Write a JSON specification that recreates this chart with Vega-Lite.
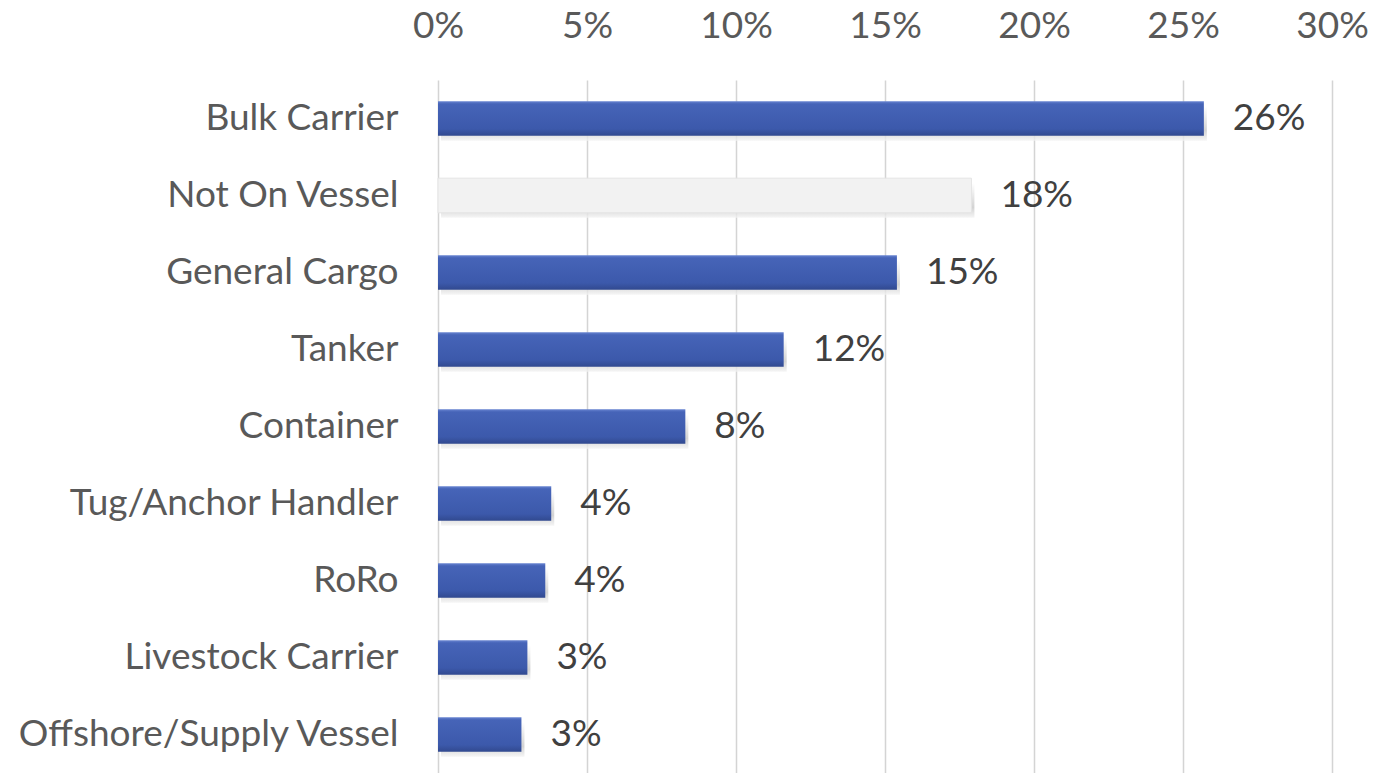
{
  "$schema": "https://vega.github.io/schema/vega-lite/v6.json",
  "autosize": "none",
  "width": 894,
  "height": 693,
  "padding": {"left": 438, "top": 80, "right": 41, "bottom": 0},
  "background": "#ffffff",
  "config": {
    "view": {"stroke": null},
    "font": "Lato"
  },
  "data": {
    "values": [
      {"type": "Bulk Carrier", "share": 0.257},
      {"type": "Not On Vessel", "share": 0.179},
      {"type": "General Cargo", "share": 0.154},
      {"type": "Tanker", "share": 0.116},
      {"type": "Container", "share": 0.083},
      {"type": "Tug/Anchor Handler", "share": 0.038},
      {"type": "RoRo", "share": 0.036},
      {"type": "Livestock Carrier", "share": 0.030},
      {"type": "Offshore/Supply Vessel", "share": 0.028}
    ]
  },
  "encoding": {
    "y": {
      "field": "type",
      "type": "nominal",
      "sort": ["Bulk Carrier", "Not On Vessel", "General Cargo", "Tanker", "Container", "Tug/Anchor Handler", "RoRo", "Livestock Carrier", "Offshore/Supply Vessel"],
      "scale": {"paddingInner": 0.55, "paddingOuter": 0.275},
      "axis": {
        "title": null,
        "ticks": false,
        "tickSize": 0,
        "domain": false,
        "labelPadding": 40,
        "labelFontSize": 37,
        "labelColor": "#595959",
        "labelFont": "Lato",
        "labelLimit": 600
      }
    },
    "x": {
      "field": "share",
      "type": "quantitative",
      "scale": {"domain": [0, 0.3], "nice": false},
      "axis": {
        "orient": "top",
        "title": null,
        "format": ".0%",
        "values": [0, 0.05, 0.1, 0.15, 0.2, 0.25, 0.3],
        "ticks": false,
        "tickSize": 0,
        "domain": false,
        "grid": true,
        "gridColor": "#d4d4d4",
        "gridWidth": 1.5,
        "labelFlush": false,
        "labelOverlap": false,
        "labelPadding": 35,
        "labelFontSize": 37,
        "labelColor": "#595959",
        "labelFont": "Lato"
      }
    }
  },
  "layer": [
    {
      "mark": {
        "type": "bar",
        "xOffset": 3,
        "yOffset": 5,
        "color": {
          "gradient": "linear", "x1": 0, "y1": 0, "x2": 0, "y2": 1,
          "stops": [
            {"offset": 0, "color": "#ffffff"},
            {"offset": 0.7, "color": "#c8c8c8"},
            {"offset": 1, "color": "#f4f4f4"}
          ]
        },
        "opacity": 0.8
      }
    },
    {
      "transform": [{"filter": "datum.type !== 'Not On Vessel'"}],
      "mark": {
        "type": "bar",
        "color": {
          "gradient": "linear", "x1": 0, "y1": 0, "x2": 0, "y2": 1,
          "stops": [
            {"offset": 0, "color": "#6a86d2"},
            {"offset": 0.08, "color": "#4664b8"},
            {"offset": 0.8, "color": "#3c59ab"},
            {"offset": 1, "color": "#31498f"}
          ]
        }
      }
    },
    {
      "transform": [{"filter": "datum.type === 'Not On Vessel'"}],
      "mark": {
        "type": "bar",
        "color": "#f2f2f2",
        "stroke": "#e4e4e4",
        "strokeWidth": 1
      }
    },
    {
      "mark": {
        "type": "text",
        "align": "left",
        "baseline": "middle",
        "dx": 29,
        "fontSize": 37,
        "font": "Lato",
        "color": "#404040"
      },
      "encoding": {
        "text": {"field": "share", "type": "quantitative", "format": ".0%"}
      }
    }
  ]
}
